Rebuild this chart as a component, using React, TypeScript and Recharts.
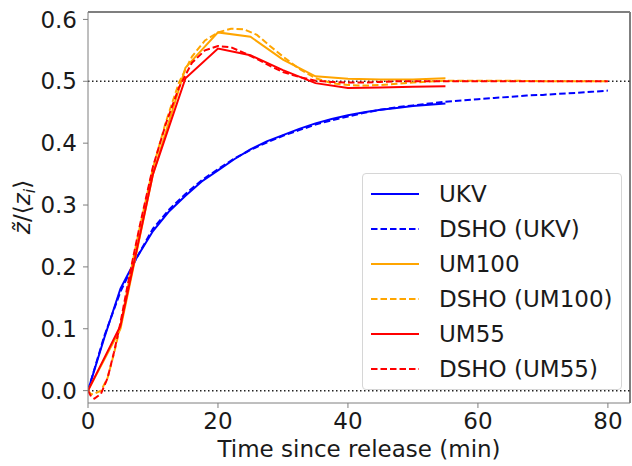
import { LineChart, Line, XAxis, YAxis, ReferenceLine } from 'recharts';

const X_TICKS = [0, 20, 40, 60, 80];
const Y_TICKS = [0, 0.1, 0.2, 0.3, 0.4, 0.5, 0.6];

// model output times (min)
const UKV_TIME = [0, 2.5, 5, 7.5, 10, 12.5, 15, 17.5, 20, 22.5, 25, 27.5, 30, 32.5, 35, 37.5, 40, 42.5, 45, 47.5, 50, 52.5, 55];
const UM_TIME = [0, 5, 10, 15, 20, 25, 30, 35, 40, 45, 50, 55];

const UKV = [0, 0.085, 0.165, 0.215, 0.258, 0.29, 0.315, 0.338, 0.356, 0.374, 0.39, 0.403, 0.413, 0.423, 0.432, 0.439, 0.445, 0.45, 0.454, 0.457, 0.46, 0.462, 0.464];
const UM100 = [0, 0.1, 0.35, 0.522, 0.579, 0.572, 0.535, 0.508, 0.504, 0.503, 0.503, 0.505];
const UM55 = [0, 0.105, 0.35, 0.505, 0.553, 0.542, 0.518, 0.497, 0.489, 0.49, 0.491, 0.492];

// DSHO fits
const DSHO_UKV_TIME = [0, 2.5, 5, 7.5, 10, 12.5, 15, 17.5, 20, 22.5, 25, 27.5, 30, 32.5, 35, 37.5, 40, 42.5, 45, 47.5, 50, 52.5, 55, 57.5, 60, 62.5, 65, 67.5, 70, 72.5, 75, 77.5, 80];
const DSHO_UKV = [0, 0.088, 0.16, 0.215, 0.262, 0.293, 0.318, 0.34, 0.358, 0.375, 0.389, 0.401, 0.412, 0.421, 0.43, 0.437, 0.443, 0.449, 0.454, 0.458, 0.461, 0.464, 0.467, 0.469, 0.471, 0.473, 0.475, 0.477, 0.478, 0.48, 0.481, 0.483, 0.485];

const DSHO_UM_TIME = [0, 0.5, 1, 2, 3, 4, 5, 6, 7, 8, 10, 12, 14, 16, 18, 20, 22, 24, 26, 28, 30, 32.5, 35, 37.5, 40, 42.5, 45, 47.5, 50, 55, 60, 65, 70, 75, 80];
const DSHO_UM100 = [0, -0.006, -0.005, 0, 0.02, 0.06, 0.105, 0.16, 0.215, 0.265, 0.36, 0.435, 0.498, 0.54, 0.566, 0.579, 0.585, 0.584, 0.575, 0.557, 0.54, 0.52, 0.505, 0.497, 0.494, 0.493, 0.494, 0.496, 0.498, 0.501, 0.501, 0.501, 0.5, 0.5, 0.5];
const DSHO_UM55 = [0, -0.01, -0.013, -0.005, 0.02, 0.062, 0.11, 0.165, 0.218, 0.268, 0.362, 0.432, 0.49, 0.53, 0.55, 0.557, 0.555, 0.546, 0.536, 0.525, 0.515, 0.507, 0.501, 0.499, 0.498, 0.498, 0.499, 0.5, 0.5, 0.5, 0.5, 0.5, 0.5, 0.5, 0.5];

const X_DOMAIN: [number, number] = [0, 83.4];
const Y_DOMAIN: [number, number] = [-0.02, 0.612];

const FONT = '"DejaVu Sans", sans-serif';
const FONT_SIZE = 23;
const TEXT = '#1a1a1a';
const SPINE = '#7f7f7f';
const DASH = '6.5 3';

const toPoints = (ts: number[], vs: number[]) => ts.map((t, i) => ({ t, v: vs[i] }));

const SERIES = [
  { name: 'UKV', data: toPoints(UKV_TIME, UKV), color: '#0000ff', dashed: false },
  { name: 'DSHO (UKV)', data: toPoints(DSHO_UKV_TIME, DSHO_UKV), color: '#0000ff', dashed: true },
  { name: 'UM100', data: toPoints(UM_TIME, UM100), color: '#ffa500', dashed: false },
  { name: 'DSHO (UM100)', data: toPoints(DSHO_UM_TIME, DSHO_UM100), color: '#ffa500', dashed: true },
  { name: 'UM55', data: toPoints(UM_TIME, UM55), color: '#ff0000', dashed: false },
  { name: 'DSHO (UM55)', data: toPoints(DSHO_UM_TIME, DSHO_UM55), color: '#ff0000', dashed: true },
];

function LegendBox() {
  return (
    <div
      style={{
        position: 'absolute',
        left: 362,
        top: 173,
        width: 258,
        height: 215,
        border: '1px solid #d6d6d6',
        borderRadius: 4,
        background: 'rgba(255,255,255,0.85)',
      }}
    >
      <svg width={258} height={215}>
        {SERIES.map((s, i) => {
          const y = 20 + i * 35;
          return (
            <g key={s.name}>
              <line
                x1={8}
                x2={56}
                y1={y}
                y2={y}
                stroke={s.color}
                strokeWidth={2}
                strokeDasharray={s.dashed ? DASH : undefined}
              />
              <text x={76} y={y} dy="0.36em" fontSize={FONT_SIZE} fontFamily={FONT} fill={TEXT}>
                {s.name}
              </text>
            </g>
          );
        })}
      </svg>
    </div>
  );
}

export default function App() {
  return (
    <div style={{ position: 'absolute', left: 0, top: 0, width: 632, height: 466, background: '#fff' }}>
      <LineChart width={632} height={466} margin={{ top: 12, right: 2, left: 0, bottom: 0 }}>
        <XAxis
          type="number"
          dataKey="t"
          domain={X_DOMAIN}
          ticks={X_TICKS}
          allowDataOverflow
          height={63}
          stroke={SPINE}
          tickSize={5}
          tickMargin={5}
          tick={{ fontSize: FONT_SIZE, fontFamily: FONT, fill: TEXT }}
          label={{
            content: () => (
              <text x={359} y={457} textAnchor="middle" fontSize={FONT_SIZE} fontFamily={FONT} fill={TEXT}>
                Time since release (min)
              </text>
            ),
          }}
        />
        <YAxis
          type="number"
          domain={Y_DOMAIN}
          ticks={Y_TICKS}
          allowDataOverflow
          width={88}
          stroke={SPINE}
          tickSize={5}
          tickMargin={6}
          tickFormatter={(v: number) => v.toFixed(1)}
          tick={{ fontSize: FONT_SIZE, fontFamily: FONT, fill: TEXT }}
          label={{
            content: () => (
              <text
                x={30}
                y={207}
                transform="rotate(-90, 30, 207)"
                textAnchor="middle"
                fontSize={FONT_SIZE}
                fontFamily={FONT}
                fill={TEXT}
              >
                <tspan fontStyle="italic">z̃</tspan>/⟨<tspan fontStyle="italic">z</tspan>
                <tspan fontSize={16} dy={5} fontStyle="italic">i</tspan>
                <tspan dy={-5}>⟩</tspan>
              </text>
            ),
          }}
        />
        {/* top and right spines */}
        <ReferenceLine y={Y_DOMAIN[1]} stroke={SPINE} strokeWidth={2} ifOverflow="visible" />
        <ReferenceLine x={X_DOMAIN[1]} stroke={SPINE} strokeWidth={2} ifOverflow="visible" />
        <ReferenceLine y={0.5} stroke="#222" strokeWidth={1.5} strokeDasharray="1.5 2.5" />
        <ReferenceLine y={0} stroke="#222" strokeWidth={1.5} strokeDasharray="1.5 2.5" />
        {SERIES.map((s) => (
          <Line
            key={s.name}
            data={s.data}
            dataKey="v"
            name={s.name}
            type="linear"
            stroke={s.color}
            strokeWidth={2}
            strokeDasharray={s.dashed ? DASH : undefined}
            dot={false}
            activeDot={false}
            isAnimationActive={false}
          />
        ))}
      </LineChart>
      <LegendBox />
    </div>
  );
}
